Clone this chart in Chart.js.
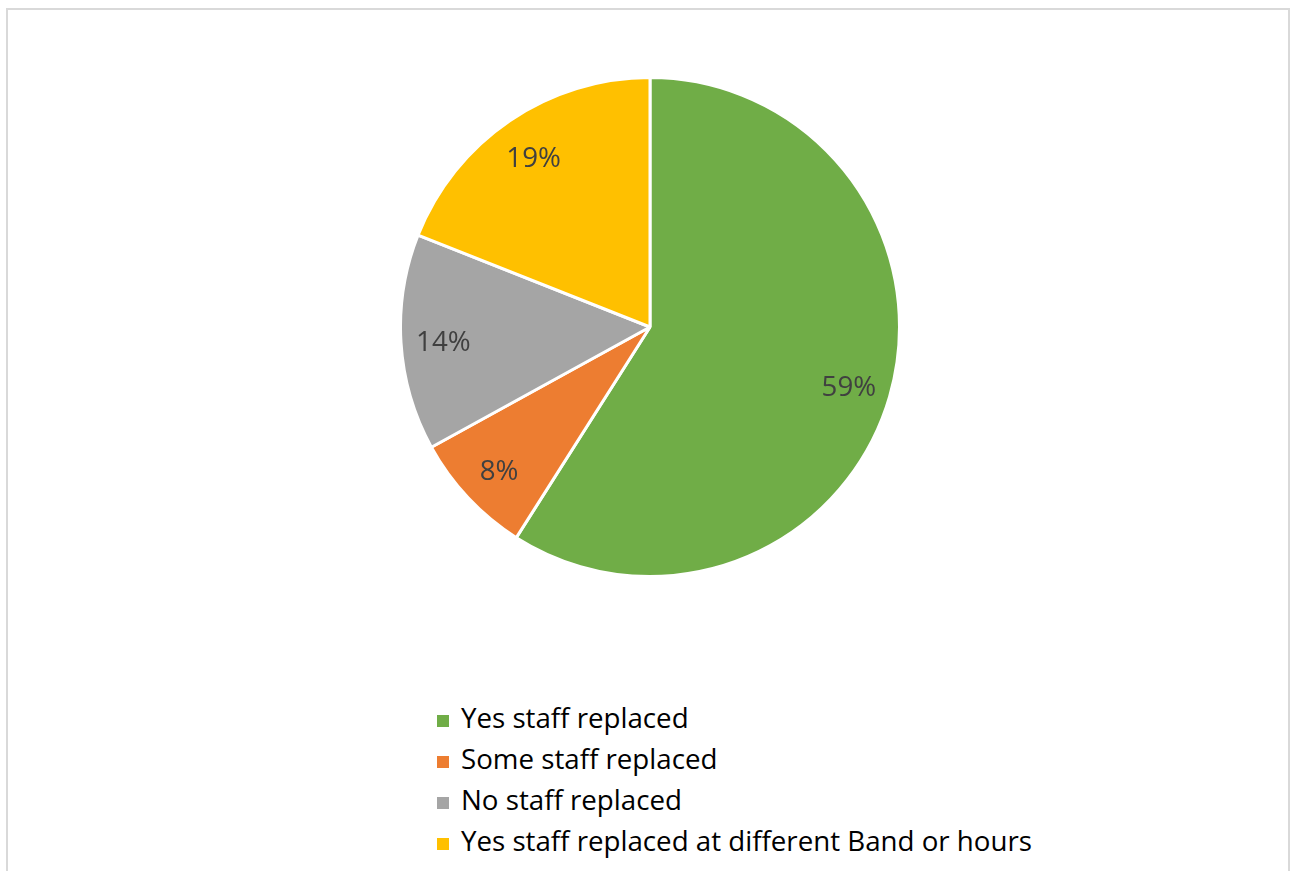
<!DOCTYPE html>
<html>
<head>
<meta charset="utf-8">
<script src="https://cdn.jsdelivr.net/npm/chart.js@4"></script>
<style>
    body { margin: 0; background: #fff; width: 1295px; height: 871px; overflow: hidden; position: relative; }
    #moldura { position: absolute; left: 6px; top: 8px; width: 1284px; height: 900px; border: 2px solid #d9d9d9; box-sizing: border-box; }
    #caixaPizza { position: absolute; left: 399px; top: 76px; width: 502px; height: 502px; }
    #legenda { position: absolute; left: 437px; top: 697px; font-family: 'Open Sans', sans-serif; font-size: 27.7px; color: #000; }
    .item { height: 41px; line-height: 41px; white-space: nowrap; }
    .quadrado { display: inline-block; width: 12px; height: 12px; margin-right: 12px; vertical-align: 1px; }
</style>
</head>
<body>
<div id="moldura"></div>
<div id="caixaPizza"><canvas id="graficoPizza"></canvas></div>
<div id="legenda"></div>
<script>
var categorias = ['Yes staff replaced', 'Some staff replaced', 'No staff replaced', 'Yes staff replaced at different Band or hours']
var porcentagens = [59, 8, 14, 19]
var cores = ['#70ad47', '#ed7d31', '#a5a5a5', '#ffc000']

// monta a legenda na mão, uma linha por categoria
var legenda = document.getElementById('legenda')
for (var i = 0; i < categorias.length; i++) {
    var linha = document.createElement('div')
    linha.className = 'item'
    linha.innerHTML = `<span class="quadrado" style="background:${cores[i]}"></span>${categorias[i]}`
    legenda.appendChild(linha)
}

// rótulos de porcentagem dentro das fatias
const rotulos = {
    id: 'rotulos',
    afterDatasetsDraw(chart) {
        const ctx = chart.ctx
        const meta = chart.getDatasetMeta(0)
        ctx.save()
        ctx.font = "27.7px 'Open Sans', sans-serif"
        ctx.fillStyle = '#404040'
        ctx.textAlign = 'center'
        ctx.textBaseline = 'middle'
        meta.data.forEach(function (arco, i) {
            const meio = (arco.startAngle + arco.endAngle) / 2
            const r = arco.outerRadius * 0.83
            const x = arco.x + Math.cos(meio) * r
            const y = arco.y + Math.sin(meio) * r + 3
            ctx.fillText(porcentagens[i] + '%', x, y)
        })
        ctx.restore()
    }
}

const grafico = document.getElementById('graficoPizza')

new Chart(grafico, {
    type: 'pie',
    data: {
        labels: categorias,
        datasets: [{
            data: porcentagens,
            backgroundColor: cores,
            borderColor: '#ffffff',
            borderWidth: 3
        }]
    },
    options: {
        responsive: true,
        maintainAspectRatio: false,
        animation: false,
        plugins: {
            legend: { display: false },
            tooltip: { enabled: false }
        }
    },
    plugins: [rotulos]
});
</script>
</body>
</html>
